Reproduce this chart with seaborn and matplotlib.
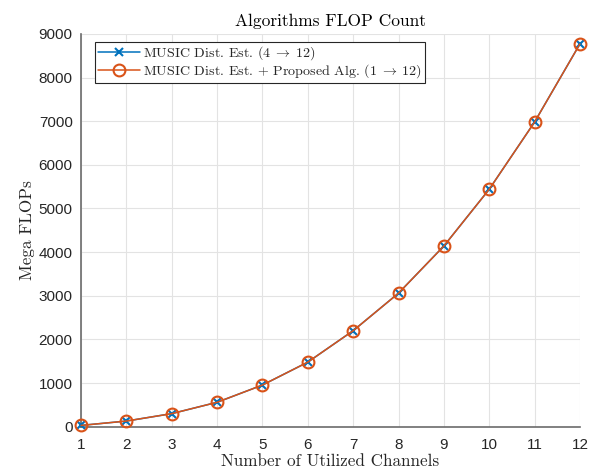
import numpy as np
import pandas as pd
import matplotlib
matplotlib.use('Agg')
import matplotlib.pyplot as plt
import seaborn as sns

# data
channels = [1, 2, 3, 4, 5, 6, 7, 8, 9, 10, 11, 12]
flops_music = [30, 130, 300, 560, 955, 1480, 2200, 3060, 4140, 5440, 6980, 8770]
flops_proposed = [30, 130, 300, 560, 955, 1480, 2200, 3060, 4140, 5440, 6980, 8770]
label_music = r'MUSIC Dist. Est. $(4 \;\rightarrow\; 12)$'
label_proposed = r'MUSIC Dist. Est. + Proposed Alg. $(1 \;\rightarrow\; 12)$'

df = pd.DataFrame({'channels': channels,
                   'music': flops_music,
                   'proposed': flops_proposed})

sns.set_style('whitegrid')
plt.rcParams['mathtext.fontset'] = 'cm'
plt.rcParams['axes.unicode_minus'] = False

serif = 'cmr10'
axcol = '#262626'
blue = '#0072BD'
orange = '#D95319'

fig = plt.figure(figsize=(5.96, 4.71), dpi=100)
ax = fig.add_axes([0.136, 0.094, 0.837, 0.834])

sns.lineplot(data=df, x='channels', y='music', ax=ax, color=blue,
             marker='x', markersize=6, markeredgewidth=1.5,
             markeredgecolor=blue, linewidth=1.1,
             label=label_music, clip_on=False, zorder=3)
sns.lineplot(data=df, x='channels', y='proposed', ax=ax, color=orange,
             marker='o', markersize=8.5, markerfacecolor='none',
             markeredgecolor=orange, markeredgewidth=1.5, linewidth=1.1,
             label=label_proposed, clip_on=False, zorder=4)

ax.set_xlim(1, 12)
ax.set_ylim(0, 9000)
ax.set_xticks(channels)
ax.set_yticks(np.arange(0, 9001, 1000))

ax.grid(True, color='#e3e3e3', linewidth=0.8)
for s in ['top', 'right']:
    ax.spines[s].set_visible(False)
for s in ['left', 'bottom']:
    ax.spines[s].set_visible(True)
    ax.spines[s].set_color('#6b6b6b')
    ax.spines[s].set_linewidth(1.2)

ax.tick_params(axis='both', direction='in', length=5, width=0.8,
               color=axcol, labelcolor=axcol, labelsize=11, pad=6)
ax.tick_params(axis='x', pad=8)
for lab in ax.get_xticklabels() + ax.get_yticklabels():
    lab.set_fontfamily('Liberation Sans')

ax.set_title('Algorithms FLOP Count', fontfamily=serif, fontsize=12.5,
             color='black', pad=6)
ax.set_xlabel('Number of Utilized Channels', fontfamily=serif, fontsize=12.3,
              color=axcol, labelpad=1)
ax.set_ylabel('Mega FLOPs', fontfamily=serif, fontsize=12.3, color=axcol,
              labelpad=3)

# legend box, square corners like the reference
leg = ax.legend(loc='upper left', bbox_to_anchor=(0.028, 0.98),
                borderaxespad=0, prop={'family': serif, 'size': 10.1},
                frameon=True, fancybox=False, framealpha=1,
                edgecolor='#262626', handlelength=3.0, handletextpad=0.2,
                borderpad=0.2, labelspacing=0.0)
leg.get_frame().set_linewidth(0.8)

fig.savefig('out.png', dpi=100)
